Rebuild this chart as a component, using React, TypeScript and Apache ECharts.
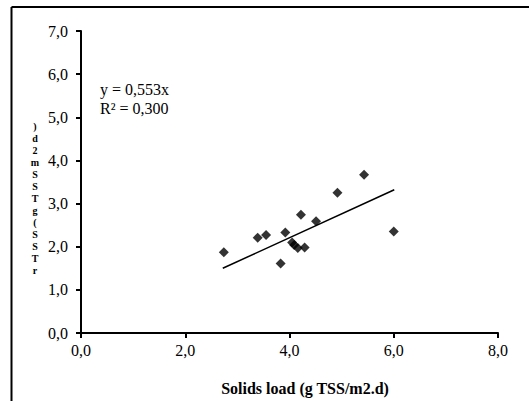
import React, { useEffect, useRef } from "react";
import * as echarts from "echarts";

const points: [number, number][] = [
  [2.74, 1.87],
  [3.39, 2.21],
  [3.55, 2.27],
  [3.83, 1.61],
  [3.92, 2.33],
  [4.05, 2.1],
  [4.09, 2.04],
  [4.16, 1.97],
  [4.29, 1.98],
  [4.22, 2.74],
  [4.51, 2.59],
  [4.92, 3.25],
  [5.43, 3.67],
  [6.0, 2.35],
];
const trend: [number, number][] = [
  [2.72, 1.5],
  [6.01, 3.32],
];
const equationLines = ["y = 0,553x", "R² = 0,300"];
const xTitle = "Solids load (g TSS/m2.d)";
const yTitleChars = [")", "d", "2", "m", "S", "S", "T", "g", "(", "S", "S", "T", "r"];

const FONT = "'Liberation Serif', 'Times New Roman', serif";
const fmt = (v: number) => v.toFixed(1).replace(".", ",");

export default function App() {
  const ref = useRef<HTMLDivElement>(null);
  useEffect(() => {
    if (!ref.current) return;
    const chart = echarts.init(ref.current, null, { renderer: "svg" });
    chart.setOption({
      animation: false,
      backgroundColor: "#fff",
      grid: { left: 81, right: 31, top: 31, bottom: 68 },
      xAxis: {
        type: "value",
        min: 0,
        max: 8,
        interval: 2,
        splitLine: { show: false },
        axisLine: { show: true, lineStyle: { color: "#000", width: 2 } },
        axisTick: { show: true, inside: false, length: 5, lineStyle: { color: "#000", width: 2 } },
        axisLabel: { color: "#000", fontFamily: FONT, fontSize: 16, margin: 9, formatter: fmt },
      },
      yAxis: {
        type: "value",
        min: 0,
        max: 7,
        interval: 1,
        splitLine: { show: false },
        axisLine: { show: true, lineStyle: { color: "#000", width: 2 } },
        axisTick: { show: true, inside: false, length: 5, lineStyle: { color: "#000", width: 2 } },
        axisLabel: { color: "#000", fontFamily: FONT, fontSize: 16, margin: 13, formatter: fmt },
      },
      series: [
        {
          type: "line",
          data: trend,
          symbol: "none",
          lineStyle: { color: "#000", width: 1.5 },
          z: 2,
        },
        {
          type: "scatter",
          data: points,
          symbol: "diamond",
          symbolSize: 10,
          itemStyle: { color: "#000" },
          z: 3,
        },
      ],
      graphic: [
        {
          type: "line",
          shape: { x1: 11.5, y1: 7, x2: 529, y2: 7 },
          style: { stroke: "#000", lineWidth: 2 },
        },
        {
          type: "line",
          shape: { x1: 11.5, y1: 7, x2: 11.5, y2: 401 },
          style: { stroke: "#000", lineWidth: 2 },
        },
        {
          type: "text",
          x: 100,
          y: 89,
          style: {
            text: equationLines[0],
            fontFamily: FONT,
            fontSize: 16,
            fill: "#000",
            verticalAlign: "middle",
          },
        },
        {
          type: "text",
          x: 100,
          y: 108,
          style: {
            text: equationLines[1],
            fontFamily: FONT,
            fontSize: 16,
            fill: "#000",
            verticalAlign: "middle",
          },
        },
        {
          type: "text",
          x: 305,
          y: 388,
          style: {
            text: xTitle,
            fontFamily: FONT,
            fontSize: 16,
            fontWeight: "bold",
            fill: "#000",
            align: "center",
            verticalAlign: "middle",
          },
        },
        {
          type: "text",
          x: 35,
          y: 120,
          style: {
            text: yTitleChars.join("\n"),
            fontFamily: FONT,
            fontSize: 10,
            fontWeight: "bold",
            lineHeight: 12,
            fill: "#000",
            align: "center",
            verticalAlign: "top",
          },
        },
      ],
    });
    return () => chart.dispose();
  }, []);
  return <div ref={ref} style={{ width: 529, height: 401, position: "absolute", left: 0, top: 0 }} />;
}
